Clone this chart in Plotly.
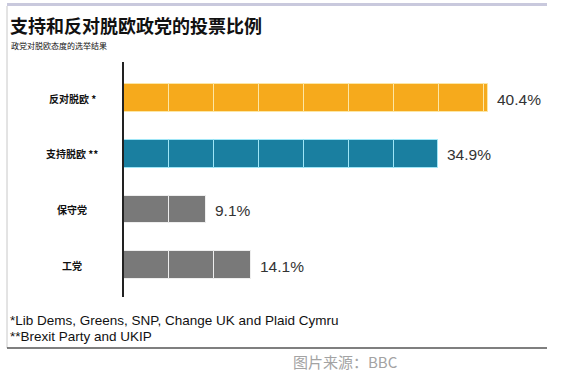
import plotly.graph_objects as go

# ---- data ----
categories = ["反对脱欧 *", "支持脱欧 **", "保守党", "工党"]
values = [40.4, 34.9, 9.1, 14.1]
value_labels = ["40.4%", "34.9%", "9.1%", "14.1%"]
bar_colors = ["#F6AA1C", "#1A7FA0", "#797979", "#797979"]
divider_colors = ["#FCE7A6", "#9FE6F7", "#EEEEEE", "#EEEEEE"]
segment_size = 5  # each block = 5 percentage points

title = "支持和反对脱欧政党的投票比例"
subtitle = "政党对脱欧态度的选举结果"
footnotes = ["*Lib Dems, Greens, SNP, Change UK and Plaid Cymru", "**Brexit Party and UKIP"]
source = "图片来源：BBC"

W, H = 567, 377
L, R, T, B = 124, 20, 62, 80
PW, PH = W - L - R, H - T - B


def px(x):
    return (x - L) / PW


def py(y):
    return (H - B - y) / PH


CJK = "Noto Sans CJK SC"
LAT = "Liberation Sans, Arial, sans-serif"

fig = go.Figure()
for i, (cat, v) in enumerate(zip(categories, values)):
    k = 0
    while k * segment_size < v - 1e-9:
        seg = min(segment_size, v - k * segment_size)
        fig.add_trace(go.Bar(
            y=[i], x=[seg], base=[k * segment_size], orientation="h",
            width=0.5,
            marker=dict(color=bar_colors[i], line=dict(color=divider_colors[i], width=1)),
            showlegend=False, hoverinfo="skip",
        ))
        k += 1

annotations = []
for i, (cat, v, lab) in enumerate(zip(categories, values, value_labels)):
    annotations.append(dict(x=px(72), xref="paper", y=i, yref="y", text=cat,
                            showarrow=False, xanchor="center", yanchor="middle",
                            font=dict(family=CJK, size=10, color="#111", weight="bold")))
    annotations.append(dict(x=v, xref="x", y=i, yref="y", text=lab, showarrow=False,
                            xanchor="left", yanchor="middle", xshift=7, yshift=-1,
                            font=dict(family=LAT, size=15.5, color="#333")))

annotations.append(dict(x=px(8), xref="paper", y=py(25), yref="paper", text=title,
                        showarrow=False, xanchor="left", yanchor="middle",
                        font=dict(family=CJK, size=18, color="#111", weight="bold")))
annotations.append(dict(x=px(9), xref="paper", y=py(45), yref="paper", text=subtitle,
                        showarrow=False, xanchor="left", yanchor="middle",
                        font=dict(family=CJK, size=8, color="#111")))
for j, fn in enumerate(footnotes):
    annotations.append(dict(x=px(8), xref="paper", y=py(320 + 16 * j), yref="paper", text=fn,
                            showarrow=False, xanchor="left", yanchor="middle",
                            font=dict(family=LAT, size=13.5, color="#111")))
annotations.append(dict(x=px(291), xref="paper", y=py(361), yref="paper", text=source,
                        showarrow=False, xanchor="left", yanchor="middle",
                        font=dict(family=CJK, size=15, color="#a3a3a3")))

shapes = [
    dict(type="rect", xref="paper", yref="paper", x0=px(7), x1=px(547), y0=py(6), y1=py(3),
         fillcolor="#C9C9DD", line=dict(width=0), layer="above"),
    dict(type="line", xref="paper", yref="paper", x0=px(7), x1=px(7), y0=py(6), y1=py(348),
         line=dict(color="#C8C8C8", width=1)),
    dict(type="line", xref="paper", yref="paper", x0=px(7), x1=px(547), y0=py(348), y1=py(348),
         line=dict(color="#555555", width=1.5)),
]

fig.update_layout(
    width=W, height=H, margin=dict(l=L, r=R, t=T, b=B),
    paper_bgcolor="white", plot_bgcolor="white",
    barmode="overlay", bargap=0,
    xaxis=dict(range=[0, PW / 9], visible=False, fixedrange=True),
    yaxis=dict(range=[3.57, -0.65], showticklabels=False, showgrid=False, zeroline=False,
               showline=True, linecolor="#222", linewidth=2, ticks="", fixedrange=True),
    annotations=annotations, shapes=shapes,
)

fig.write_html("out.html", config={"displayModeBar": False},
               post_script="document.body.style.margin='0';document.body.style.overflow='hidden';")
